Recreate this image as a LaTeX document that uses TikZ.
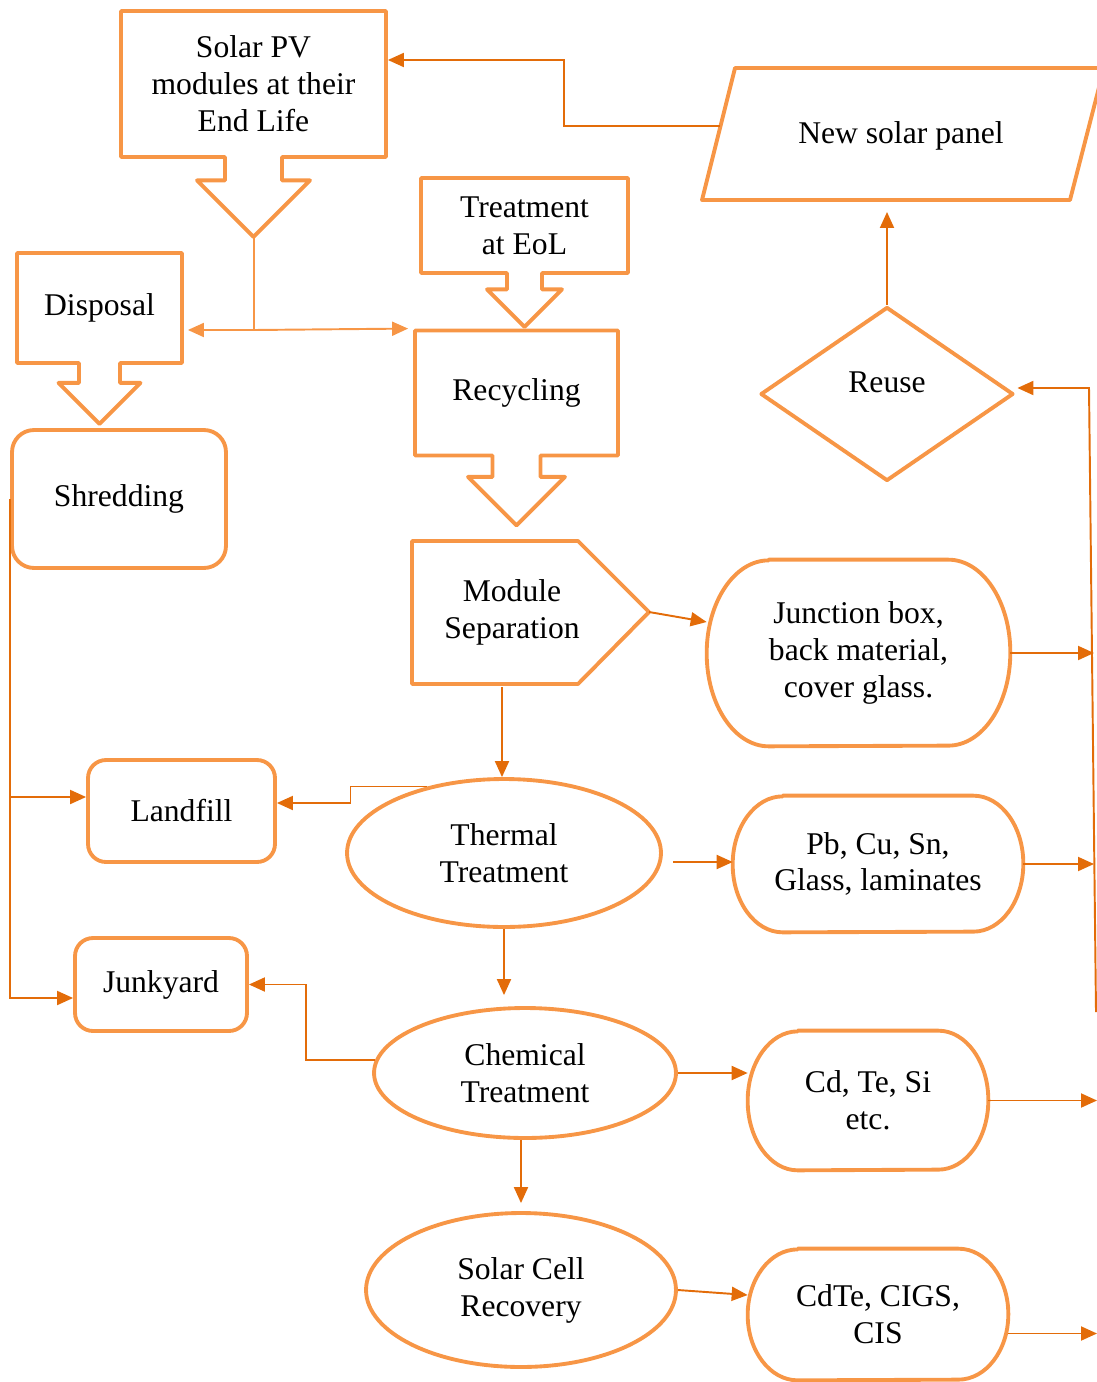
\documentclass[tikz,border=0pt]{standalone}
\usepackage{fontspec}
\setmainfont{Liberation Serif}
\usetikzlibrary{shapes.geometric,shapes.arrows,arrows.meta,calc}
\definecolor{boxorange}{HTML}{F79646}
\definecolor{linkorange}{HTML}{E36C09}

\begin{document}
\begin{tikzpicture}[x=0.02cm,y=-0.02cm,
    box/.style={draw=boxorange,line width=2.2pt,line join=round},
    txt/.style={align=center,font=\fontsize{18}{21}\selectfont,inner sep=0pt},
    downbox/.style={box,txt,arrow box,arrow box tip angle=90},
    roundbox/.style={box,txt,rectangle,rounded corners=0.36cm},
    oval/.style={box,txt,ellipse},
    link/.style={draw=linkorange,line width=1.1pt,-{Triangle[length=0.32cm,width=0.28cm]}},
    tie/.style={draw=boxorange,line width=1.1pt}]
    \useasboundingbox (0,0) rectangle (1097,1382);

    \node[downbox,minimum width=5.3cm,minimum height=2.92cm,arrow box shaft width=1.14cm,
      arrow box head extend=0.56cm,arrow box arrows={south:1.56cm}] (sp) at (253.5,84) {Solar PV\\modules at their\\End Life};
    \node[downbox,minimum width=4.14cm,minimum height=1.9cm,arrow box shaft width=0.7cm,
      arrow box head extend=0.4cm,arrow box arrows={south:1.04cm}] (te) at (524.5,225.5) {Treatment\\at EoL};
    \node[downbox,minimum width=3.3cm,minimum height=2.2cm,arrow box shaft width=0.82cm,
      arrow box head extend=0.41cm,arrow box arrows={south:1.18cm}] (dp) at (99.5,308) {Disposal};
    \node[downbox,minimum width=4.06cm,minimum height=2.5cm,arrow box shaft width=0.96cm,
      arrow box head extend=0.49cm,arrow box arrows={south:1.36cm}] (rc) at (516.5,393) {Recycling};
    \node[roundbox,minimum width=4.28cm,minimum height=2.76cm,rounded corners=0.44cm] (sh) at (119,499) {Shredding};

    \coordinate (P1) at (702,200);
    \coordinate (P2) at (735,68);
    \coordinate (P3) at (1104,68);
    \coordinate (P4) at (1070,200);
    \draw[box] (P1)--(P2)--(P3)--(P4)--cycle;
    \node[txt] (ns) at (901,136) {New solar panel};
    \coordinate (nsl) at (720,126);
    \coordinate (nsb) at (887,212);

    \node[box,txt,diamond,minimum width=5.06cm,minimum height=3.48cm] (ru) at (887,394) {\raisebox{0.48cm}{Reuse}};

    \coordinate (M1) at (412,541);
    \coordinate (M2) at (578,541);
    \coordinate (M3) at (649,612);
    \coordinate (M4) at (578,684);
    \coordinate (M5) at (412,684);
    \draw[box] (M1)--(M2)--(M3)--(M4)--(M5)--cycle;
    \node[txt] (ms) at (512,612) {Module\\Separation};
    \coordinate (msb) at (502,687);

    \node[txt,minimum width=6.06cm,minimum height=3.72cm] (jb) at (858.5,653) {Junction box,\\back material,\\cover glass.};
    \node[txt,minimum width=5.8cm,minimum height=2.72cm] (pb) at (878,864) {Pb, Cu, Sn,\\Glass, laminates};
    \node[txt,minimum width=4.8cm,minimum height=2.78cm] (cd) at (868,1100.5) {Cd, Te, Si\\etc.};
    \node[txt,minimum width=5.2cm,minimum height=2.62cm] (cg) at (878,1314.5) {CdTe, CIGS,\\CIS};
    \foreach \n/\rx/\ry in {jb/1.24/1.86,pb/1.0/1.36,cd/1.0/1.39,cg/1.0/1.31}
      \draw[box] ([xshift=\rx cm]\n.north west)--([xshift=-\rx cm]\n.north east)
        arc[start angle=90,end angle=-90,x radius=\rx cm,y radius=\ry cm]
        --([xshift=\rx cm]\n.south west)
        arc[start angle=270,end angle=90,x radius=\rx cm,y radius=\ry cm]--cycle;

    \node[roundbox,minimum width=3.74cm,minimum height=2.04cm] (lf) at (181.5,811) {Landfill};
    \node[roundbox,minimum width=3.44cm,minimum height=1.86cm] (jy) at (161,984.5) {Junkyard};

    \node[oval,minimum width=6.28cm,minimum height=2.96cm] (tt) at (504,853) {Thermal\\Treatment};
    \node[oval,minimum width=6.04cm,minimum height=2.6cm] (ch) at (525,1073) {Chemical\\Treatment};
    \node[oval,minimum width=6.2cm,minimum height=3.08cm] (sc) at (521,1290) {Solar Cell\\Recovery};

    \coordinate (sptip) at (254,235);
    \coordinate (fork) at (254,330);
    \draw[tie] (sptip)--(fork);
    \draw[tie,-{Triangle[length=0.32cm,width=0.28cm]}] (fork)--([xshift=0.08cm]dp.east |- fork);
    \draw[tie,-{Triangle[length=0.32cm,width=0.28cm]}] (fork)--([xshift=-0.1cm]rc.north west);

    \coordinate (bend) at (564,60);
    \draw[link] (nsl)-|(bend)--(sp.east |- bend);
    \draw[link] (ru.north)--(nsb);

    \coordinate (spineT) at (1089,388);
    \coordinate (spineB) at (1096,1012);
    \coordinate (rim) at (1094,0);
    \coordinate (rightedge) at (1097,0);
    \draw[link] (spineB)--(spineT)--([xshift=0.04cm]ru.east |- spineT);
    \draw[link] (jb.east)--(jb.east -| rim);
    \draw[link] (pb.east)--(pb.east -| rim);
    \draw[link] (cd.east)--(cd.east -| rightedge);
    \coordinate (cgout) at ([yshift=-0.38cm]cg.east);
    \draw[link] (cgout)--(cgout -| rightedge);

    \draw[link] (M3)--([yshift=0.62cm]jb.west);
    \draw[link] (msb)--(msb |- tt.north);

    \draw[link] (tt.139)--++(-77,0)|-([yshift=0.16cm]lf.east);
    \coordinate (lfin) at ([yshift=0.28cm]lf.west);
    \draw[link] (lfin -| sh.west)--(lfin);
    \draw[link] (sh.west)|-([yshift=-0.27cm]jy.west);

    \coordinate (chtop) at ([yshift=0.22cm]ch.north);
    \draw[link] (tt.south)--(tt.south |- chtop);
    \coordinate (ttr) at (673,862);
    \draw[link] (ttr)--(ttr -| pb.west);

    \draw[link] (ch.175)--++(-69,0)|-(jy.east);
    \draw[link] (ch.east)--(ch.east -| cd.west);
    \draw[link] (sc.north |- ch.south)--([yshift=0.16cm]sc.north);
    \draw[link] (sc.east)--([yshift=0.39cm]cg.west);
  \end{tikzpicture}
\end{document}
